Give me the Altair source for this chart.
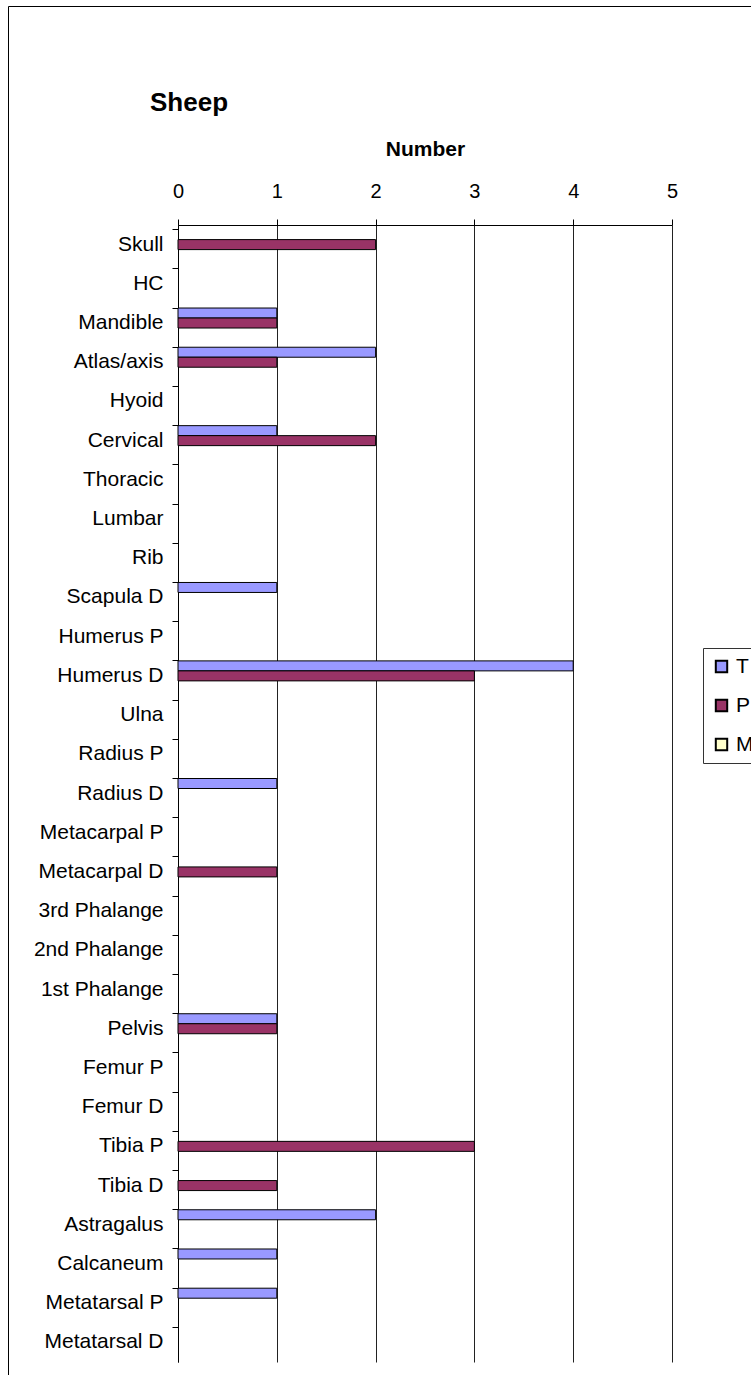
import altair as alt
import pandas as pd

categories = ["Skull", "HC", "Mandible", "Atlas/axis", "Hyoid", "Cervical", "Thoracic",
              "Lumbar", "Rib", "Scapula D", "Humerus P", "Humerus D", "Ulna", "Radius P",
              "Radius D", "Metacarpal P", "Metacarpal D", "3rd Phalange", "2nd Phalange",
              "1st Phalange", "Pelvis", "Femur P", "Femur D", "Tibia P", "Tibia D",
              "Astragalus", "Calcaneum", "Metatarsal P", "Metatarsal D"]
t_values = [0, 0, 1, 2, 0, 1, 0, 0, 0, 1, 0, 4, 0, 0, 1, 0, 0, 0, 0, 0, 1, 0, 0, 0, 0, 2, 1, 1, 0]
p_values = [2, 0, 1, 1, 0, 2, 0, 0, 0, 0, 0, 3, 0, 0, 0, 0, 1, 0, 0, 0, 1, 0, 0, 3, 1, 0, 0, 0, 0]
m_values = [0, 0, 0, 0, 0, 0, 0, 0, 0, 0, 0, 0, 0, 0, 0, 0, 0, 0, 0, 0, 0, 0, 0, 0, 0, 0, 0, 0, 0]
series = ["T", "P", "M"]
colors = ["#9999FF", "#993366", "#FFFFCC"]
x_ticks = [0, 1, 2, 3, 4, 5]

rows = []
for name, vals in zip(series, [t_values, p_values, m_values]):
    for cat, v in zip(categories, vals):
        rows.append({"bone": cat, "series": name, "value": v})
df = pd.DataFrame(rows)

FONT = "Liberation Sans"
W, H = 494, 1137

bars = alt.Chart(df).transform_filter("datum.value > 0").mark_bar(
    stroke="black", strokeWidth=1
).encode(
    x=alt.X("value:Q",
            scale=alt.Scale(domain=[0, 5], nice=False, zero=True),
            axis=alt.Axis(orient="top", values=x_ticks, format="d", title="Number",
                          titleFont=FONT, titleFontSize=21, titleFontWeight="bold",
                          titleColor="black", titleX=W / 2, titleY=-70,
                          titleBaseline="alphabetic", titleAlign="center",
                          labelFont=FONT, labelFontSize=20, labelColor="black",
                          labelBaseline="alphabetic", labelPadding=22, labelFlush=False,
                          tickSize=6, tickColor="black", domainColor="black",
                          grid=True, gridColor="#222222", gridWidth=1)),
    y=alt.Y("bone:N", sort=categories,
            scale=alt.Scale(domain=categories, paddingInner=0.235, paddingOuter=0.1175),
            axis=alt.Axis(title=None, bandPosition=0,
                          labelFont=FONT, labelFontSize=21, labelColor="black",
                          labelPadding=9, labelBaseline="middle",
                          tickSize=6, tickColor="black", domainColor="black",
                          grid=False)),
    yOffset=alt.YOffset("series:N",
                        scale=alt.Scale(domain=series, paddingInner=0, paddingOuter=0)),
    color=alt.Color("series:N", scale=alt.Scale(domain=series, range=colors),
                    legend=alt.Legend(title=None, orient="none", legendX=525, legendY=423,
                                      symbolType="square", symbolSize=130,
                                      symbolStrokeColor="black", symbolStrokeWidth=2,
                                      labelFont=FONT, labelFontSize=21, labelColor="black",
                                      labelOffset=4, rowPadding=17, padding=8,
                                      strokeColor="#333333", fillColor="white")),
)

frame = alt.Chart(alt.Data(values=[{}])).mark_rect(
    filled=False, stroke="black", strokeWidth=1, clip=False
).encode(
    x=alt.value(-169.5), x2=alt.value(700), y=alt.value(-218.5), y2=alt.value(1300)
)

chart = alt.layer(frame, bars).properties(
    width=W, height=H,
    title=alt.Title("Sheep", anchor="start", frame="group", dx=-28, dy=135,
                    baseline="alphabetic",
                    font=FONT, fontSize=26, fontWeight="bold", color="black"),
    padding={"left": 178, "top": 225, "right": 79, "bottom": 13},
    autosize=alt.AutoSizeParams(type="none"),
).configure_view(stroke="transparent")

chart.save("out.html", embed_options={"renderer": "svg", "actions": False})
